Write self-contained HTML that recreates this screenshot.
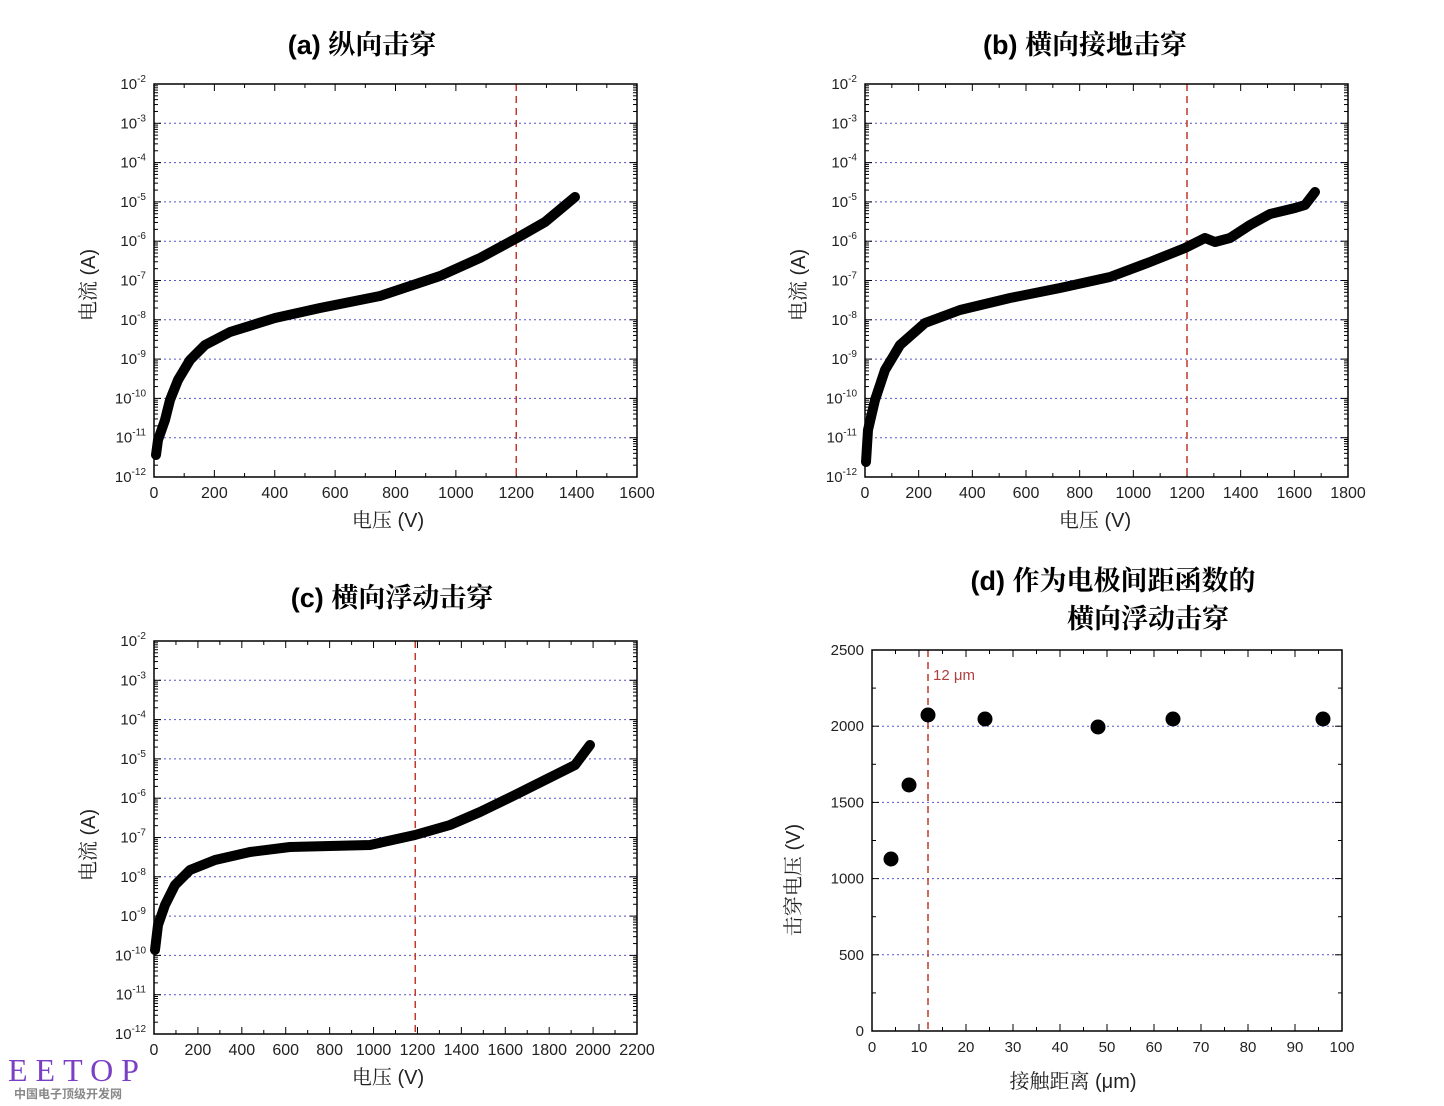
<!DOCTYPE html>
<html><head><meta charset="utf-8">
<style>
html,body{margin:0;padding:0;background:#fff;}
svg{display:block;}
text{font-family:"Liberation Sans","Noto Sans CJK SC",sans-serif;}
.cj{font-family:"Liberation Sans","Noto Serif CJK SC",serif;}
</style></head>
<body>
<svg id="s" width="1444" height="1106" xmlns="http://www.w3.org/2000/svg">
<g font-size="27" text-anchor="middle" fill="#000">
<text x="362" y="54"><tspan font-weight="bold">(a)</tspan><tspan class="cj" font-weight="bold">  纵向击穿</tspan></text>
<text x="1085" y="54"><tspan font-weight="bold">(b)</tspan><tspan class="cj" font-weight="bold">  横向接地击穿</tspan></text>
<text x="392" y="607"><tspan font-weight="bold">(c)</tspan><tspan class="cj" font-weight="bold">  横向浮动击穿</tspan></text>
<text x="1113" y="590"><tspan font-weight="bold">(d)</tspan><tspan class="cj" font-weight="bold">  作为电极间距函数的</tspan></text>
<text x="1148" y="628" class="cj" font-weight="bold">横向浮动击穿</text>
</g>
<g font-size="20" fill="#222" text-anchor="middle" class="cj">
<text x="388" y="527" class="cj">电压  (V)</text>
<text x="1095" y="527" class="cj">电压  (V)</text>
<text x="388" y="1084" class="cj">电压  (V)</text>
<text x="1073" y="1088" class="cj">接触距离  (μm)</text>
<text class="cj" transform="translate(95,285) rotate(-90)">电流  (A)</text>
<text class="cj" transform="translate(805,285) rotate(-90)">电流  (A)</text>
<text class="cj" transform="translate(95,845) rotate(-90)">电流  (A)</text>
<text class="cj" transform="translate(800,880) rotate(-90)">击穿电压  (V)</text>
</g>
<text x="8" y="1081" style="font-family:'Liberation Serif',serif" font-size="32" fill="#7b3fc4" letter-spacing="8">EETOP</text>
<text x="14" y="1098" font-size="12" fill="#888" font-weight="bold">中国电子顶级开发网</text>
<g id="g"></g>
</svg>
<script>
var NS="http://www.w3.org/2000/svg",G=document.getElementById("g");
function el(t,a,txt){var e=document.createElementNS(NS,t);for(var k in a)e.setAttribute(k,a[k]);if(txt!==undefined)e.textContent=txt;G.appendChild(e);return e;}
function logPanel(x0,x1,y0,y1,xmax,xstep,vline,pts){
  var d=(y1-y0)/10;
  for(var i=1;i<10;i++){var y=y0+i*d;el("line",{x1:x0,x2:x1,y1:y,y2:y,stroke:"#5555cc","stroke-width":1,"stroke-dasharray":"2,3"});}
  for(var i=0;i<=10;i++){var y=y0+i*d;
    var t=el("text",{x:x0-8,y:y+5,"font-size":15,"text-anchor":"end",fill:"#222"});
    t.textContent="10";var s=document.createElementNS(NS,"tspan");s.setAttribute("dy","-7");s.setAttribute("font-size","10");s.textContent=String(-2-i);t.appendChild(s);
    el("line",{x1:x0,x2:x0+7,y1:y,y2:y,stroke:"#000"});el("line",{x1:x1,x2:x1-7,y1:y,y2:y,stroke:"#000"});
    if(i<10)for(var m=2;m<10;m++){var ym=y+d-Math.log10(m)*d;el("line",{x1:x0,x2:x0+4,y1:ym,y2:ym,stroke:"#000"});el("line",{x1:x1,x2:x1-4,y1:ym,y2:ym,stroke:"#000"});}
  }
  var sc=(x1-x0)/xmax;
  for(var v=0;v<=xmax;v+=xstep/2){var x=x0+v*sc,L=(v%xstep==0)?7:4;
    el("line",{x1:x,x2:x,y1:y1,y2:y1-L,stroke:"#000"});el("line",{x1:x,x2:x,y1:y0,y2:y0+L,stroke:"#000"});
    if(v%xstep==0)el("text",{x:x,y:y1+21,"font-size":16,"text-anchor":"middle",fill:"#222"},String(v));}
  var vx=x0+vline*sc;el("line",{x1:vx,x2:vx,y1:y0,y2:y1,stroke:"#c0392b","stroke-width":1.5,"stroke-dasharray":"7,5"});
  el("polyline",{points:pts,fill:"none",stroke:"#000","stroke-width":10,"stroke-linejoin":"round","stroke-linecap":"round"});
  el("rect",{x:x0,y:y0,width:x1-x0,height:y1-y0,fill:"none",stroke:"#000","stroke-width":1.5});
}
logPanel(154,637,84,477,1600,200,1200,"156,455 158,440 165,420 170,400 178,380 190,360 205,345 230,332 275,318 320,308 380,296 440,276 480,258 517,238 545,222 575,197");
logPanel(865,1348,84,477,1800,200,1200,"866,462 868,430 875,400 885,370 900,345 925,323 960,310 1010,298 1060,288 1110,277 1150,262 1185,248 1205,238 1215,242 1230,238 1250,225 1270,214 1295,208 1305,205 1315,192");
logPanel(154,637,641,1034,2200,200,1190,"155,950 158,925 165,905 175,885 190,870 215,860 250,852 290,847 330,846 370,845 415,835 450,825 480,812 515,795 545,780 575,765 590,745");
(function(){var x0=872,x1=1342,y0=650,y1=1031;
 for(var v=500;v<2500;v+=500){var y=y1-v*(y1-y0)/2500;el("line",{x1:x0,x2:x1,y1:y,y2:y,stroke:"#5555cc","stroke-dasharray":"2,3"});}
 for(var v=0;v<=2500;v+=250){var y=y1-v*(y1-y0)/2500,L=v%500==0?7:4;el("line",{x1:x0,x2:x0+L,y1:y,y2:y,stroke:"#000"});el("line",{x1:x1,x2:x1-L,y1:y,y2:y,stroke:"#000"});
  if(v%500==0)el("text",{x:x0-8,y:y+5,"font-size":15,"text-anchor":"end",fill:"#222"},String(v));}
 for(var v=0;v<=100;v+=5){var x=x0+v*4.7,L=v%10==0?7:4;el("line",{x1:x,x2:x,y1:y1,y2:y1-L,stroke:"#000"});el("line",{x1:x,x2:x,y1:y0,y2:y0+L,stroke:"#000"});
  if(v%10==0)el("text",{x:x,y:y1+21,"font-size":15,"text-anchor":"middle",fill:"#222"},String(v));}
 el("line",{x1:928,x2:928,y1:y0,y2:y1,stroke:"#c0392b","stroke-width":1.5,"stroke-dasharray":"7,5"});
 el("text",{x:933,y:680,"font-size":15,fill:"#b04040"},"12 μm");
 [[891,859],[909,785],[928,715],[985,719],[1098,727],[1173,719],[1323,719]].forEach(function(p){el("circle",{cx:p[0],cy:p[1],r:7.5,fill:"#000"});});
 el("rect",{x:x0,y:y0,width:x1-x0,height:y1-y0,fill:"none",stroke:"#000","stroke-width":1.5});
})();
</script>
</body></html>
